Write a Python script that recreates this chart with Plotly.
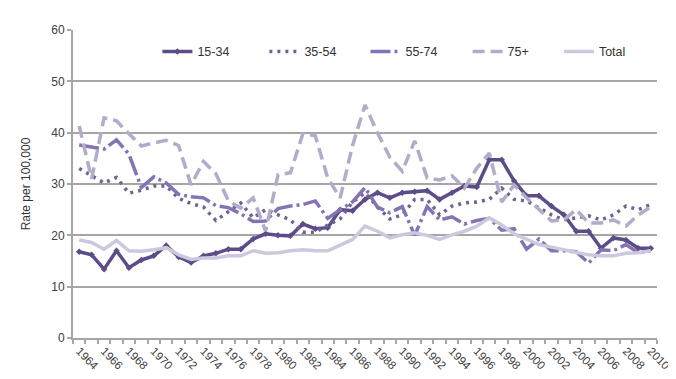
import plotly.graph_objects as go

years = list(range(1964, 2011))

age_15_34 = [16.8, 16.2, 13.4, 17.0, 13.7, 15.2, 16.0, 18.0, 15.8, 14.7,
             16.0, 16.5, 17.3, 17.3, 19.3, 20.3, 20.0, 19.9, 22.2, 21.3,
             21.5, 25.0, 24.8, 27.0, 28.3, 27.3, 28.3, 28.5, 28.7, 27.0,
             28.3, 29.6, 29.4, 34.7, 34.7, 30.6, 27.7, 27.7, 25.7, 24.0,
             20.8, 20.8, 17.5, 19.5, 19.1, 17.5, 17.5]

age_35_54 = [33.0, 31.5, 30.2, 31.3, 28.2, 28.8, 29.6, 29.6, 27.2, 26.2,
             25.5, 22.9, 24.5, 26.3, 23.4, 25.0, 24.0, 23.0, 20.6, 20.6,
             22.0, 23.2, 26.5, 28.3, 25.5, 23.2, 24.0, 27.0, 27.0, 24.0,
             25.7, 26.3, 26.5, 27.0, 29.2, 27.0, 26.7, 25.3, 24.0, 23.0,
             23.4, 23.8, 23.0, 24.0, 25.7, 25.0, 26.0]

age_55_74 = [37.6, 37.2, 36.8, 38.6, 35.8, 29.3, 31.4, 30.2, 28.0, 27.5,
             27.3, 25.8, 25.4, 24.2, 22.7, 22.8, 25.2, 25.7, 26.0, 26.7,
             23.3, 25.0, 26.5, 29.3, 25.5, 24.4, 25.6, 20.0, 25.6, 23.0,
             23.6, 22.2, 22.9, 23.3, 21.0, 21.3, 17.3, 19.3, 17.0, 17.0,
             16.8, 14.6, 17.2, 17.0, 18.2, 16.6, 17.0]

age_75_plus = [41.3, 31.0, 42.9, 42.3, 39.8, 37.4, 38.0, 38.5, 37.5, 29.8,
               34.4, 32.0, 26.7, 25.3, 27.3, 20.8, 31.8, 32.2, 39.8, 39.4,
               31.2, 27.3, 37.5, 45.4, 40.0, 35.2, 32.5, 38.4, 31.2, 30.8,
               31.6, 29.2, 33.1, 36.0, 26.5, 29.8, 27.3, 25.0, 22.8, 23.0,
               25.0, 22.4, 22.4, 23.0, 21.8, 24.0, 25.5]

total = [19.1, 18.6, 17.3, 19.0, 17.0, 16.9, 17.2, 17.6, 16.2, 15.3,
         15.6, 15.6, 16.0, 16.0, 17.0, 16.5, 16.6, 17.0, 17.2, 17.0,
         17.0, 18.1, 19.2, 21.8, 20.8, 19.5, 20.1, 20.5, 20.0, 19.2,
         20.1, 20.8, 21.8, 23.4, 22.0, 20.3, 19.3, 18.2, 17.7, 17.2,
         16.6, 16.2, 16.0, 16.0, 16.5, 16.6, 17.0]

tick_years = list(range(1964, 2011, 2))
tick_labels = [str(y) for y in tick_years]

series = [
    ("15-34", age_15_34, "#5e4c88", "solid", True),
    ("35-54", age_35_54, "#6f6393", "3px,5px", False),
    ("55-74", age_55_74, "#8573b3", "20px,4px,3px,4px", False),
    ("75+", age_75_plus, "#b3abca", "12px,6px", False),
    ("Total", total, "#cdc8dd", "solid", False),
]
legend_x = [0.1445, 0.3277, 0.5008, 0.6757, 0.832]

fig = go.Figure()
legends = {}
for i, (name, vals, color, dash, mk) in enumerate(series):
    lg = "legend" if i == 0 else f"legend{i + 1}"
    fig.add_trace(go.Scatter(
        x=years, y=vals, name=name, legend=lg,
        mode="lines+markers" if mk else "lines",
        line=dict(color=color, width=3.5, dash=dash),
        marker=dict(size=5, color=color, symbol="diamond") if mk else None,
    ))
    legends[lg] = dict(orientation="h", x=legend_x[i], y=0.929,
                       xanchor="left", yanchor="middle",
                       bgcolor="rgba(0,0,0,0)",
                       font=dict(size=12.5, color="#333333"))

fig.update_layout(
    width=676, height=379,
    margin=dict(l=65, r=22, t=22, b=49),
    paper_bgcolor="white", plot_bgcolor="white",
    font=dict(family="Liberation Sans, Arial, sans-serif", size=12, color="#404040"),
    showlegend=True,
    **legends,
)

fig.update_xaxes(
    range=[1963.5, 2010.5],
    tickmode="array", tickvals=tick_years, ticktext=tick_labels,
    tickangle=45, ticks="", showgrid=False,
    showline=True, linecolor="#a6a6a6", linewidth=2,
    tickfont=dict(size=11.5, color="#404040"),
    minor=dict(tick0=1963.5, dtick=1, ticks="outside", ticklen=4,
               tickcolor="#a6a6a6", tickwidth=1.5, showgrid=False),
    zeroline=False,
)
fig.update_yaxes(
    range=[0, 60], dtick=10,
    showgrid=True, gridcolor="#a6a6a6", gridwidth=1.5,
    showline=True, linecolor="#a6a6a6", linewidth=2,
    ticks="outside", ticklen=4, tickcolor="#a6a6a6", tickwidth=1.5,
    tickfont=dict(size=12, color="#404040"),
    title=dict(text="Rate per 100,000", font=dict(size=12, color="#333333"), standoff=18),
    zeroline=False,
)

fig.write_html("out.html")
